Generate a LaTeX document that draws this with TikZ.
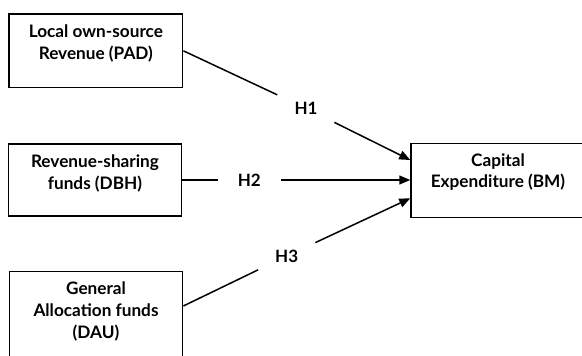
\documentclass[tikz,border=0pt]{standalone}
\usepackage{fontspec}
\setmainfont{Lato}
\usetikzlibrary{arrows.meta}
\begin{document}
\begin{tikzpicture}[x=1pt,y=-1pt,
  box/.style={draw, line width=1.5pt, inner sep=0pt},
  boxtext/.style={align=center, inner sep=0pt, font=\bfseries\fontsize{17.2}{21.6}\selectfont},
  hlab/.style={circle, minimum size=63pt, inner sep=0pt, font=\bfseries\fontsize{17}{18}\selectfont},
  link/.style={line width=1.5pt},
  arr/.style={link, -{Triangle[length=11pt,width=9pt]}}]
\useasboundingbox (0,0) rectangle (582,356);
% boxes
\node[box, minimum width=173.7pt, minimum height=73.7pt,
  label={[boxtext, yshift=7.3pt]center:{Local own-source\\Revenue (PAD)}}] (pad) at (95.85,50.85) {};
\node[box, minimum width=173.4pt, minimum height=72.4pt,
  label={[boxtext, yshift=6.8pt]center:{Revenue-sharing\\funds (DBH)}}] (dbh) at (95,180) {};
\node[box, minimum width=173.4pt, minimum height=94.4pt,
  label={[boxtext, yshift=7.5pt]center:{General\\Allocation funds\\(DAU)}}] (dau) at (96,318.9) {};
\node[box, minimum width=174pt, minimum height=74pt,
  label={[boxtext, yshift=8.4pt]center:{Capital\\Expenditure (BM)}}] (bm) at (498,180.3) {};
% hypothesis labels
\node[hlab] (h1) at (306,108.3) {H1};
\node[hlab] (h2) at (249.3,180) {H2};
\node[hlab] (h3) at (286.7,256) {H3};
% connector end points
\coordinate (t1) at ([yshift=20.3pt]bm.west);
\coordinate (t3) at ([yshift=-18pt]bm.west);
\coordinate (s3) at ([yshift=-35pt]dau.north east);
% connectors
\draw[link] (pad.east) -- (h1);
\draw[arr] (h1) -- (t1);
\draw[link] (dbh.east) -- (h2);
\draw[arr] (h2) -- (h2 -| bm.west);
\draw[link] (s3) -- (h3);
\draw[arr] (h3) -- (t3);
\end{tikzpicture}
\end{document}
